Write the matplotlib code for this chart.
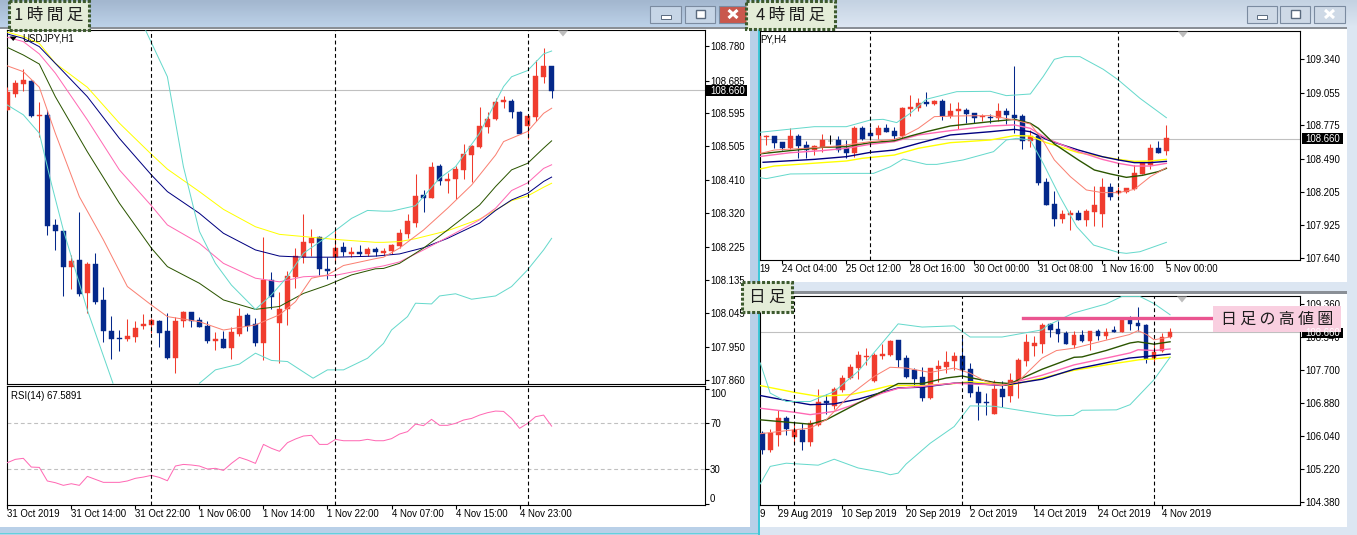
import numpy as np
import matplotlib
matplotlib.use("Agg")
import matplotlib.pyplot as plt
from matplotlib.patches import Rectangle, Polygon

W, H = 1357, 535
plt.rcParams["font.family"] = ["Liberation Sans", "DejaVu Sans"]

RED = "#f03c2e"
BLUE = "#04288a"
YELLOW = "#ffff00"
NAVY = "#000080"
PINK = "#ff69b4"
GREEN = "#2b5500"
SALMON = "#fa8072"
TURQ = "#66d9cc"
GRAY = "#c0c0c0"

# ---- 1 hour candles
h1_open = [108.604,108.649,108.676,108.684,108.589,108.591,108.287,108.270,108.172,108.190,108.100,108.179,108.080,107.994,107.975,107.971,107.979,108.009,108.012,108.022,107.993,107.921,108.021,108.046,108.025,108.008,107.968,107.971,107.946,107.986,108.038,108.014,107.962,108.135,108.017,108.056,108.143,108.198,108.238,108.254,108.165,108.198,108.225,108.207,108.212,108.207,108.221,108.209,108.216,108.229,108.262,108.293,108.369,108.361,108.450,108.409,108.414,108.439,108.481,108.503,108.558,108.580,108.625,108.628,108.599,108.561,108.584,108.696,108.726]
h1_high = [108.667,108.687,108.717,108.687,108.626,108.604,108.304,108.273,108.203,108.323,108.185,108.209,108.115,108.036,107.997,108.028,108.021,108.041,108.029,108.025,108.043,108.034,108.049,108.046,108.032,108.021,107.992,107.995,108.006,108.058,108.045,108.029,108.253,108.157,108.102,108.161,108.222,108.317,108.275,108.257,108.198,108.273,108.240,108.225,108.231,108.225,108.227,108.222,108.235,108.275,108.317,108.428,108.384,108.461,108.455,108.431,108.450,108.511,108.507,108.612,108.599,108.636,108.643,108.634,108.601,108.588,108.742,108.776,108.726]
h1_low = [108.604,108.641,108.658,108.586,108.529,108.258,108.218,108.092,108.111,108.091,108.045,108.069,107.964,107.918,107.940,107.968,107.964,108.001,107.990,107.951,107.918,107.878,108.006,108.006,108.005,107.962,107.942,107.946,107.918,107.981,107.994,107.953,107.913,108.056,107.907,108.011,108.113,108.181,108.200,108.148,108.137,108.181,108.201,108.198,108.201,108.201,108.201,108.203,108.207,108.224,108.251,108.282,108.324,108.360,108.397,108.376,108.358,108.415,108.406,108.500,108.542,108.577,108.610,108.582,108.538,108.523,108.573,108.680,108.638]
h1_close = [108.655,108.678,108.687,108.588,108.591,108.285,108.269,108.172,108.188,108.097,108.179,108.073,107.993,107.973,107.971,107.981,108.003,108.014,108.025,107.990,107.920,108.022,108.046,108.023,108.006,107.968,107.971,107.948,107.992,108.036,108.008,107.962,108.135,108.089,108.054,108.146,108.201,108.240,108.251,108.165,108.161,108.223,108.211,108.212,108.207,108.220,108.213,108.214,108.232,108.264,108.297,108.367,108.361,108.446,108.409,108.414,108.442,108.483,108.506,108.560,108.580,108.626,108.632,108.600,108.539,108.588,108.698,108.726,108.658]

h1_yellow_x = [0,2,4,6,10,14,18,20,24,27,31,34,37,41,46,47,49,51,55,59,61,63,65,67,68]
h1_yellow = [108.819,108.807,108.788,108.733,108.667,108.568,108.482,108.441,108.379,108.330,108.282,108.261,108.255,108.247,108.239,108.239,108.241,108.249,108.271,108.303,108.328,108.354,108.367,108.391,108.402]
h1_navy_x = [0,2,4,6,10,14,18,20,24,27,31,34,37,41,46,47,49,52,55,59,61,63,65,67,68]
h1_navy = [108.814,108.802,108.779,108.733,108.641,108.526,108.425,108.379,108.319,108.264,108.218,108.201,108.198,108.198,108.201,108.203,108.207,108.224,108.250,108.292,108.327,108.356,108.374,108.407,108.419]
h1_pink_x = [0,2,4,6,10,14,18,20,24,27,31,34,37,41,46,47,49,52,55,59,61,63,65,67,68]
h1_pink = [108.805,108.793,108.759,108.706,108.577,108.439,108.340,108.287,108.236,108.181,108.140,108.130,108.144,108.148,108.170,108.174,108.185,108.218,108.253,108.301,108.333,108.382,108.403,108.443,108.453]
h1_green_x = [0,2,4,6,10,14,18,20,24,27,31,34,37,40,43,46,47,49,52,55,59,61,63,65,67,68]
h1_green = [108.777,108.756,108.731,108.641,108.489,108.347,108.223,108.172,108.126,108.080,108.054,108.062,108.098,108.121,108.149,108.166,108.167,108.181,108.223,108.273,108.342,108.393,108.439,108.457,108.499,108.519]
h1_salmon_x = [0,2,4,6,9,12,15,18,20,24,27,31,34,36,38,40,42,46,47,49,52,55,58,61,62,65,67,68]
h1_salmon = [108.726,108.710,108.667,108.540,108.365,108.246,108.117,108.066,108.034,108.020,107.997,108.011,108.039,108.075,108.140,108.149,108.175,108.194,108.198,108.223,108.273,108.333,108.397,108.480,108.517,108.545,108.595,108.609]
h1_upper_x = [17.3,20,22,24,26,28,31,33,35,37,40,43,45,47,48,51,54,56,59,62,63,65,67,68]
h1_upper = [108.823,108.696,108.448,108.269,108.181,108.121,108.054,108.094,108.144,108.209,108.255,108.305,108.327,108.325,108.325,108.340,108.416,108.448,108.540,108.669,108.696,108.713,108.759,108.767]
h1_lower_x = [0,2,4,5.5,7,10,13.2,np.nan,24,26,29,31,33,35,38.2,40,42,45,47,48,50,51,53,54,56,58,61,63,65,67,68]
h1_lower = [108.618,108.591,108.540,108.402,108.273,108.052,107.850,np.nan,107.850,107.887,107.903,107.933,107.913,107.910,107.864,107.887,107.887,107.919,107.960,107.997,108.034,108.071,108.069,108.091,108.097,108.082,108.091,108.117,108.163,108.218,108.250]
h1_rsi = [35.8,38.7,39.6,32.0,31.7,19.9,18.4,16.1,17.5,16.1,23.9,21.3,18.7,18.7,18.7,19.9,22.2,23.3,24.8,23.0,20.1,32.9,34.3,33.8,32.9,30.3,30.9,29.1,35.2,40.4,38.1,35.2,51.7,48.3,45.7,53.2,56.4,59.0,59.6,51.7,51.7,56.1,54.9,54.9,54.9,56.1,54.9,54.9,56.7,60.7,62.8,69.4,68.0,73.5,68.3,68.3,70.0,72.9,74.3,77.2,79.3,80.7,80.4,74.3,65.7,70.0,75.8,77.2,67.6]
h1_ticks = [108.780,108.685,108.595,108.505,108.410,108.320,108.225,108.135,108.045,107.950,107.860]
h1_xtick_bars = [0,8,16,24,32,40,48,56,64]
h1_xlabels = ["31 Oct 2019","31 Oct 14:00","31 Oct 22:00","1 Nov 06:00","1 Nov 14:00","1 Nov 22:00","4 Nov 07:00","4 Nov 15:00","4 Nov 23:00"]
h1_periods = [18,41,65]

# ---- 4 hour candles
h4_open = [108.529,108.678,108.683,108.629,108.580,108.683,108.606,108.563,108.586,108.643,108.649,108.578,108.538,108.752,108.706,108.695,108.752,108.726,108.683,108.918,108.923,108.975,108.958,108.983,108.855,108.900,108.903,108.878,108.843,108.846,108.840,108.895,108.860,108.852,108.643,108.683,108.289,108.101,107.975,108.006,108.021,107.966,108.032,108.018,108.246,108.198,108.203,108.226,108.358,108.438,108.580,108.558]
h4_high = [108.692,108.692,108.683,108.629,108.752,108.698,108.640,108.606,108.698,108.689,108.683,108.649,108.769,108.769,108.758,108.778,108.786,108.758,108.929,109.032,109.006,109.060,108.992,108.998,108.963,108.975,108.920,108.878,108.869,108.872,108.963,108.923,109.283,108.869,108.735,108.689,108.321,108.209,108.049,108.049,108.049,108.055,108.255,108.321,108.281,108.249,108.238,108.435,108.455,108.615,108.640,108.778]
h4_low = [108.520,108.606,108.580,108.563,108.575,108.492,108.492,108.520,108.546,108.615,108.549,108.498,108.506,108.649,108.660,108.655,108.718,108.655,108.663,108.858,108.900,108.940,108.946,108.823,108.838,108.740,108.798,108.798,108.815,108.798,108.809,108.786,108.712,108.575,108.592,108.261,108.095,107.915,107.940,107.878,107.963,107.912,107.912,107.903,108.135,108.178,108.198,108.221,108.355,108.403,108.540,108.520]
h4_close = [108.683,108.686,108.620,108.578,108.683,108.598,108.563,108.598,108.649,108.643,108.563,108.538,108.749,108.655,108.683,108.752,108.720,108.683,108.923,108.929,108.963,108.955,108.980,108.855,108.900,108.912,108.869,108.838,108.858,108.840,108.900,108.863,108.840,108.643,108.683,108.283,108.095,107.975,108.015,108.021,107.963,108.041,108.089,108.246,108.163,108.209,108.238,108.366,108.449,108.580,108.540,108.666]

h4_yellow_x = [0,2,8,11,13,17,20,24,29,32,34,36,37,40,43,45,47,49,51]
h4_yellow = [108.398,108.426,108.455,108.469,108.492,108.520,108.578,108.626,108.649,108.686,108.683,108.626,108.606,108.540,108.506,108.483,108.466,108.469,108.483]
h4_navy_x = [0.6,7,11,14,17,20,24,29,32,34,36,37,40,43,45,47,49,51]
h4_navy = [108.458,108.483,108.506,108.543,108.563,108.620,108.692,108.720,108.740,108.720,108.655,108.629,108.563,108.506,108.478,108.455,108.455,108.466]
h4_pink_x = [0,4,8,11,14,17,20,24,29,32,34,36,37,40,43,45,47,49,51]
h4_pink = [108.506,108.540,108.558,108.578,108.612,108.635,108.692,108.729,108.769,108.778,108.749,108.663,108.635,108.549,108.483,108.449,108.426,108.426,108.449]
h4_green_x = [0,4,8,11,14,17,19,21,24,29,32,34,35,37,40,42,44,46,48,50,51]
h4_green = [108.529,108.558,108.586,108.592,108.626,108.643,108.683,108.720,108.769,108.806,108.826,108.792,108.749,108.615,108.478,108.392,108.358,108.329,108.346,108.378,108.406]
h4_salmon_x = [0,2,6,10,14,17,18,20,22,25,29,32,34,35.4,37,39,41,43,45,47,49,51]
h4_salmon = [108.529,108.563,108.578,108.598,108.635,108.655,108.678,108.749,108.849,108.855,108.858,108.820,108.786,108.663,108.478,108.335,108.221,108.198,108.198,108.226,108.335,108.412]
h4_upper_x = [0.2,3,7,11,14,15.6,17.3,19,21,24.8,29,31,34,35.6,37,38.3,40.2,43.1,45,47.7,51]
h4_upper = [108.715,108.735,108.763,108.763,108.820,108.826,108.798,108.878,108.998,109.063,109.066,109.029,109.043,109.192,109.340,109.363,109.363,109.255,109.163,109.006,108.840]
h4_lower_x = [0.2,1,4,11.5,14.4,16.5,18.1,21,22.3,25.6,29.4,31,32.3,34,35.6,37.7,39.8,41.9,45,46,47.7,51]
h4_lower = [108.326,108.318,108.358,108.363,108.363,108.420,108.486,108.440,108.440,108.478,108.549,108.649,108.663,108.649,108.449,108.163,107.906,107.749,107.686,107.678,107.692,107.772]
h4_ticks = [109.340,109.055,108.775,108.490,108.205,107.925,107.640]
h4_xtick_bars = [3,11,19,27,35,43,51]
h4_xlabels = ["24 Oct 04:00","25 Oct 12:00","28 Oct 16:00","30 Oct 00:00","31 Oct 08:00","1 Nov 16:00","5 Nov 00:00"]
h4_periods = [14,45]

# ---- daily candles
d1_open = [106.13,105.70,106.07,106.50,106.02,106.20,105.90,106.32,106.93,106.80,107.20,107.51,107.76,108.03,107.43,108.06,108.08,108.45,108.01,107.71,107.53,107.00,107.73,107.78,107.93,108.06,107.73,107.15,106.90,106.60,107.23,107.05,107.43,107.93,108.31,108.36,108.85,108.74,108.64,108.34,108.59,108.44,108.69,108.56,108.71,108.65,108.97,108.89,108.84,107.98,108.18,108.54]
d1_high = [106.16,106.22,106.69,106.55,106.38,106.38,106.45,107.23,107.10,107.27,107.58,107.86,108.18,108.26,108.14,108.36,108.46,108.46,108.08,107.76,107.77,107.76,107.96,108.19,108.16,108.50,107.88,107.31,107.13,107.46,107.43,107.63,108.01,108.61,108.56,108.89,108.88,108.94,108.69,108.67,108.71,108.69,108.74,108.76,108.80,108.97,109.07,109.29,108.86,108.34,108.64,108.76]
d1_low = [105.58,105.63,105.80,106.07,105.88,105.70,105.80,106.30,106.60,106.72,107.15,107.47,107.47,107.83,107.41,107.99,108.06,107.77,107.51,107.27,106.93,106.97,107.41,107.62,107.71,107.55,107.02,106.45,106.58,106.60,106.78,106.90,107.00,107.81,108.06,108.14,108.54,108.41,108.36,108.26,108.41,108.21,108.46,108.49,108.65,108.65,108.71,108.69,107.88,107.86,108.16,108.51]
d1_close = [105.70,106.11,106.50,106.22,106.20,105.90,106.36,106.90,106.87,107.23,107.51,107.78,108.08,108.06,108.08,108.11,108.44,107.96,107.53,107.48,107.00,107.76,107.81,107.91,108.06,107.71,107.13,106.87,106.88,107.23,107.03,107.46,107.96,108.41,108.39,108.84,108.71,108.61,108.36,108.59,108.44,108.69,108.56,108.66,108.66,108.97,108.86,108.81,107.98,108.16,108.54,108.66]

d1_yellow_x = [-0.25,4,7,11,14,16,20,24,26,28,31,35,38.9,43,47.2,49,51]
d1_yellow = [107.31,107.14,107.04,107.08,107.21,107.31,107.31,107.36,107.41,107.37,107.32,107.50,107.69,107.83,107.96,107.98,108.02]
d1_navy_x = [-0.25,4,6,9,12,15,17,20,24,26,30,35,39,43,45.9,49,51]
d1_navy = [107.06,106.90,106.83,106.85,106.97,107.14,107.25,107.27,107.37,107.37,107.31,107.47,107.72,107.88,108.00,108.06,108.10]
d1_pink_x = [-0.25,4,6,9,11,15,17,20,24,30,35,39,43,46,47,49,51]
d1_pink = [106.74,106.64,106.58,106.66,106.80,107.12,107.24,107.29,107.37,107.32,107.57,107.83,108.00,108.13,108.21,108.19,108.23]
d1_green_x = [-0.25,2,6,8,12,15,17,20,23,25,27,29,31,35,39,40,43,46,47,49,51]
d1_green = [106.45,106.41,106.34,106.45,106.87,107.16,107.36,107.36,107.50,107.55,107.47,107.39,107.36,107.72,108.02,108.03,108.19,108.38,108.41,108.35,108.41]
d1_salmon_x = [-0.25,4,6,8,11,14,16,18,21,24,26,28,30,32,35,36.8,39,43,45.9,47,48.1,49,51]
d1_salmon = [106.10,106.20,106.24,106.45,107.08,107.54,107.77,107.75,107.64,107.75,107.62,107.41,107.31,107.41,108.00,108.19,108.25,108.45,108.59,108.69,108.59,108.46,108.53]
d1_upper_x = [-0.25,1,3,6,9,12,15,17,20,24,26,30,35,35.6,38.9,43,45,47.2,49,51]
d1_upper = [107.88,107.12,106.91,106.91,107.16,107.67,108.38,108.86,108.78,108.81,108.53,108.53,108.71,108.81,109.13,109.36,109.55,109.55,109.37,109.09]
d1_lower_x = [-0.25,1,3,7,9,12,15,16,17,18,21,24,26,29,35,36.8,38.9,40,44.3,46,49,51]
d1_lower = [104.84,105.28,105.36,105.31,105.46,105.24,105.13,105.07,105.11,105.34,105.86,106.28,106.80,106.79,106.60,106.55,106.56,106.69,106.70,106.83,107.46,108.02]
d1_ticks = [109.360,108.540,107.700,106.880,106.040,105.220,104.380]
d1_xtick_bars = [2,10,18,26,34,42,50]
d1_xlabels = ["29 Aug 2019","10 Sep 2019","20 Sep 2019","2 Oct 2019","14 Oct 2019","24 Oct 2019","4 Nov 2019"]
d1_periods = [4,25,49]
d1_high_zone = 109.01
d1_zone_x = [32.6,56.4]

last_price = 108.660
rsi_levels = [70,30]
rsi_ticks = [100,70,30,0]

DASH = (0, (3.5, 2.5))


def px_axes(fig, left, top, right, bottom, zorder=2):
    ax = fig.add_axes([left/W, 1-bottom/H, (right-left)/W, (bottom-top)/H], zorder=zorder)
    ax.set_facecolor("white")
    for s in ax.spines.values():
        s.set_linewidth(0.8)
        s.set_color("black")
    return ax


def draw_candles(ax, o, h, l, c, body=0.6):
    o, h, l, c = map(np.array, (o, h, l, c))
    x = np.arange(len(o))
    up = c >= o
    flat = c == o
    colors = np.where(flat, "black", np.where(up, RED, BLUE))
    ax.vlines(x, l, h, colors=colors, lw=0.75, zorder=4)
    bottom = np.minimum(o, c)
    ax.bar(x, np.abs(c-o), body, bottom, color=colors, edgecolor=colors, lw=0.3, zorder=5)


def draw_line(ax, x, y, color, lw=0.72):
    ax.plot(x, y, color=color, lw=lw, zorder=6, solid_joinstyle="round")


def right_ticks(ax, ticks, fmt="%.3f"):
    ax.yaxis.tick_right()
    ax.set_yticks(ticks)
    ax.set_yticklabels([fmt % t for t in ticks])
    ax.tick_params(axis="y", length=3, width=0.8, labelsize=6.9, pad=1)


def bottom_ticks(ax, bars, labels):
    ax.set_xticks(bars)
    ax.set_xticklabels(labels, ha="left")
    ax.tick_params(axis="x", length=3, width=0.8, labelsize=6.9, pad=0)


def periods(ax, bars):
    for b in bars:
        ax.axvline(b, color="black", lw=0.8, ls=DASH, zorder=7)


fig = plt.figure(figsize=(W/100, H/100), dpi=100)

# window chrome behind everything, in figure pixels
bg = fig.add_axes([0, 0, 1, 1], zorder=0)
bg.axis("off")
bg.add_patch(Rectangle((0, 0), W, H, fc="#dce6f2", ec="none"))
grad = np.linspace(0, 1, 27)[:, None]
bg.imshow(grad, extent=(0, 759, 27, 0), aspect="auto", cmap=matplotlib.colors.LinearSegmentedColormap.from_list("t1", ["#a3b7cf", "#bcd1e8"]), zorder=1)
bg.imshow(grad, extent=(759, 1357, 27, 0), aspect="auto", cmap=matplotlib.colors.LinearSegmentedColormap.from_list("t2", ["#c4d2e2", "#dce6f2"]), zorder=1)
bg.set_xlim(0, W)
bg.set_ylim(H, 0)
bg.add_patch(Rectangle((0, 27), 750, 2, fc="#8a8f96", ec="none", zorder=2))
bg.add_patch(Rectangle((0, 29), 750, 498, fc="white", ec="none", zorder=2))
bg.add_patch(Rectangle((750, 0), 9, H, fc="#b9d0e8", ec="none", zorder=2))
bg.add_patch(Rectangle((0, 527), 759, 8, fc="#b9d0e8", ec="none", zorder=2))
bg.add_patch(Rectangle((0, 533), 759, 1, fc="#62d2dc", ec="none", zorder=3))
bg.add_patch(Rectangle((758, 0), 1.5, H, fc="#40c8d8", ec="none", zorder=3))
bg.add_patch(Rectangle((759, 27), 588, 2, fc="#8a8f96", ec="none", zorder=2))
bg.add_patch(Rectangle((759, 29), 588, 253, fc="white", ec="none", zorder=2))
bg.add_patch(Rectangle((759, 291), 588, 3, fc="#8a8f96", ec="none", zorder=2))
bg.add_patch(Rectangle((759, 294), 588, 233, fc="white", ec="none", zorder=2))

# ---- 1 hour panel
ax1 = px_axes(fig, 6.5, 30, 704.5, 384)
ax1.set_xlim(-0.1, 87.1)
ax1.set_ylim(107.848, 108.825)
ax1.axhline(last_price, color=GRAY, lw=0.8, zorder=1)
periods(ax1, h1_periods)
draw_candles(ax1, h1_open, h1_high, h1_low, h1_close)
draw_line(ax1, h1_yellow_x, h1_yellow, YELLOW)
draw_line(ax1, h1_navy_x, h1_navy, NAVY)
draw_line(ax1, h1_pink_x, h1_pink, PINK)
draw_line(ax1, h1_green_x, h1_green, GREEN)
draw_line(ax1, h1_salmon_x, h1_salmon, SALMON)
draw_line(ax1, h1_upper_x, h1_upper, TURQ)
draw_line(ax1, h1_lower_x, h1_lower, TURQ)
right_ticks(ax1, h1_ticks)
ax1.set_xticks([])

# rsi below it
ax1r = px_axes(fig, 6.5, 386, 704.5, 505)
ax1r.set_xlim(-0.1, 87.1)
ax1r.set_ylim(-1, 102.5)
for lv in rsi_levels:
    ax1r.axhline(lv, color=GRAY, lw=0.8, ls=DASH, zorder=1)
periods(ax1r, h1_periods)
ax1r.plot(np.arange(len(h1_rsi)), h1_rsi, color=PINK, lw=0.72, zorder=6)
right_ticks(ax1r, rsi_ticks, "%d")
for t in ax1r.get_yticklabels():
    if t.get_text() == "100":
        t.set_va("top")
    if t.get_text() == "0":
        t.set_va("bottom")
bottom_ticks(ax1r, h1_xtick_bars, h1_xlabels)

# ---- 4 hour panel
ax4 = px_axes(fig, 759.5, 31.3, 1300, 260)
ax4.set_xlim(0.15, 67.7)
ax4.set_ylim(107.621, 109.580)
ax4.axhline(last_price, color=GRAY, lw=0.8, zorder=1)
periods(ax4, h4_periods)
draw_candles(ax4, h4_open, h4_high, h4_low, h4_close)
draw_line(ax4, h4_yellow_x, h4_yellow, YELLOW, 1.0)
draw_line(ax4, h4_navy_x, h4_navy, NAVY, 1.0)
draw_line(ax4, h4_pink_x, h4_pink, PINK, 1.0)
draw_line(ax4, h4_green_x, h4_green, GREEN, 1.0)
draw_line(ax4, h4_salmon_x, h4_salmon, SALMON)
draw_line(ax4, h4_upper_x, h4_upper, TURQ)
draw_line(ax4, h4_lower_x, h4_lower, TURQ)
right_ticks(ax4, h4_ticks)
bottom_ticks(ax4, h4_xtick_bars, h4_xlabels)

# ---- daily panel
axd = px_axes(fig, 759.5, 296, 1300, 505)
axd.set_xlim(-0.34, 67.25)
axd.set_ylim(104.31, 109.56)
axd.axhline(last_price, color=GRAY, lw=0.8, zorder=1)
periods(axd, d1_periods)
draw_candles(axd, d1_open, d1_high, d1_low, d1_close)
draw_line(axd, d1_yellow_x, d1_yellow, YELLOW, 1.0)
draw_line(axd, d1_navy_x, d1_navy, NAVY, 1.0)
draw_line(axd, d1_pink_x, d1_pink, PINK, 1.0)
draw_line(axd, d1_green_x, d1_green, GREEN, 1.0)
draw_line(axd, d1_salmon_x, d1_salmon, SALMON)
draw_line(axd, d1_upper_x, d1_upper, TURQ)
draw_line(axd, d1_lower_x, d1_lower, TURQ)
axd.plot(d1_zone_x, [d1_high_zone, d1_high_zone], color="#ea5590", lw=2.4, zorder=8)
right_ticks(axd, d1_ticks)
bottom_ticks(axd, d1_xtick_bars, d1_xlabels)

# ---- overlay: buttons, price tags, labels, japanese notes
fg = fig.add_axes([0, 0, 1, 1], zorder=10)
fg.set_xlim(0, W)
fg.set_ylim(H, 0)
fg.axis("off")
fg.patch.set_alpha(0)

tiny = dict(fontsize=6.9, color="black", va="center")
fg.text(22, 38.5, "USDJPY,H1", **tiny)
fg.add_patch(Polygon([[9.5, 36.5], [17, 36.5], [13.2, 41]], fc="black", ec="none"))
fg.text(760, 39.5, "PY,H4", **tiny)
fg.text(11, 396, "RSI(14) %.4f" % 67.5891, **tiny)
fg.text(759.5, 269, "19", **tiny)
fg.text(760, 514, "9", **tiny)

for cx, cy in [(563, 32.5), (1183, 33.5), (1182, 298.5)]:
    fg.add_patch(Polygon([[cx-5, cy-2], [cx+5, cy-2], [cx, cy+4]], fc="#bdbdbd", ec="none"))

for x0, y0, y1 in [(706, 85, 96), (1301.5, 133, 144), (1301.5, 328, 338)]:
    fg.add_patch(Rectangle((x0, y0), 41, y1-y0, fc="black", ec="none"))
    fg.text(x0+4, (y0+y1)/2, "%.3f" % last_price, color="white", fontsize=6.9, va="center")

btn_edge = "#7b8ba0"
buttons = [(650, 6, 31, "#c6d5e6"), (685, 6, 30, "#c6d5e6"), (719, 6, 28, "#c9574c"),
           (1247, 6, 30, "#ced9e6"), (1280, 6, 30, "#ced9e6"), (1314, 6, 31, "#ced9e6")]
for i, (bx, by, bw, bc) in enumerate(buttons):
    fg.add_patch(Rectangle((bx, by), bw, 17, fc=bc, ec=btn_edge, lw=0.8))
    cx = bx + bw/2
    if i % 3 == 0:
        fg.add_patch(Rectangle((cx-5, by+9), 10, 3.5, fc="white", ec="#5a6a7e", lw=0.7))
    elif i % 3 == 1:
        fg.add_patch(Rectangle((cx-4.5, by+3.5), 9, 8, fc="white", ec="#5a6a7e", lw=1.0))
    else:
        fg.plot([cx-4.5, cx+4.5], [by+4, by+12], color="white", lw=2.2, solid_capstyle="butt")
        fg.plot([cx-4.5, cx+4.5], [by+12, by+4], color="white", lw=2.2, solid_capstyle="butt")

jp = ["Noto Sans CJK JP", "DejaVu Sans"]
notes = [(8.5, 1, 80, 29, "1\u2009時\u2009間\u2009足"), (746, 1, 89, 28, "4\u2009時\u2009間\u2009足"), (742, 282, 50, 30, "日\u2009足")]
for nx, ny, nw, nh, txt in notes:
    fg.add_patch(Rectangle((nx, ny), nw, nh, fc="#e4edd8", ec="#3d5a2e", lw=2.2, ls=(0, (1, 0.6))))
    fg.text(nx+nw/2, ny+nh/2, txt, family=jp, fontsize=12, color="#1c1c1c", ha="center", va="center")
fg.add_patch(Rectangle((1213, 306), 128, 26, fc="#f9cfe0", ec="none"))
fg.text(1277, 319, "日\u2009足\u2009の\u2009高\u2009値\u2009圏", family=jp, fontsize=11.5, color="#1c1c1c", ha="center", va="center")

fig.savefig("out.png", dpi=100)
